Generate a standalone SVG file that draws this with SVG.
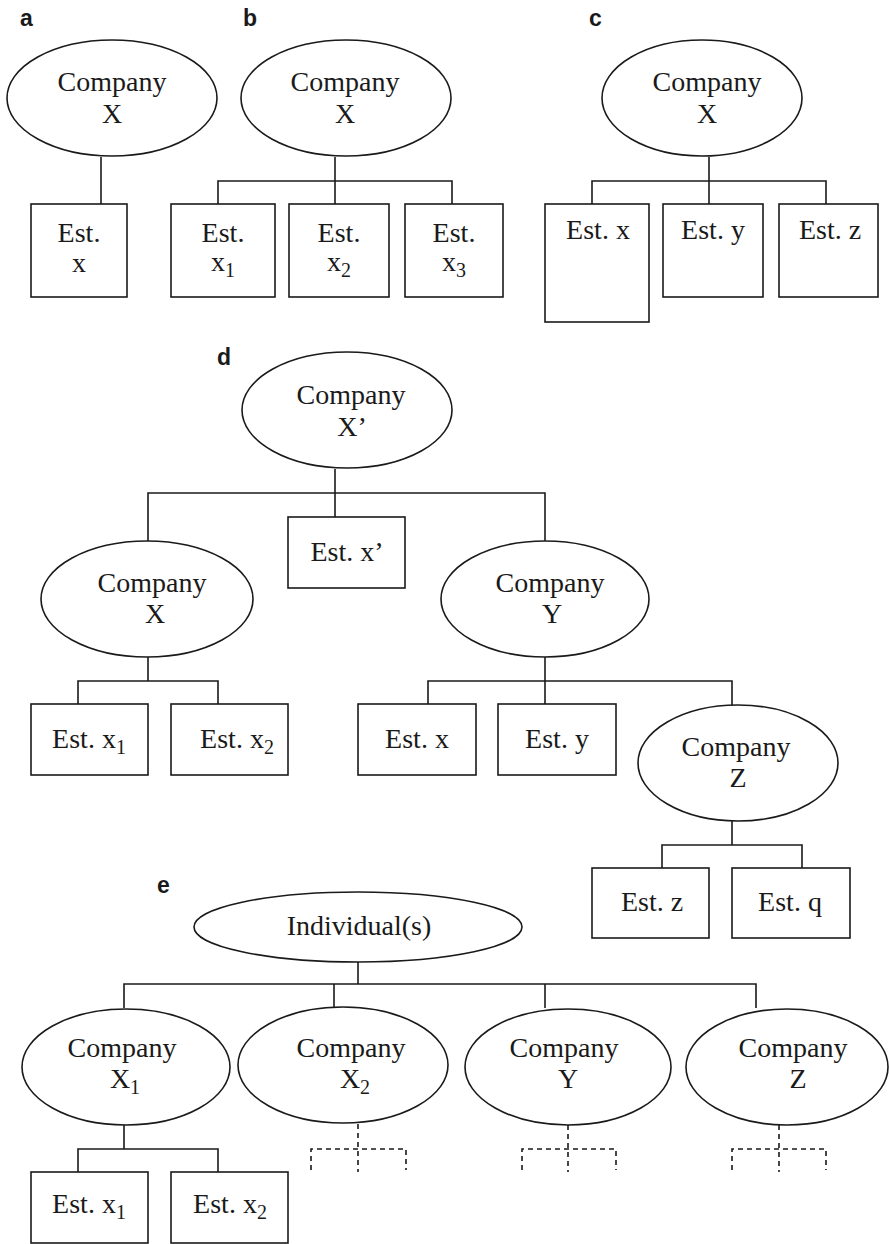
<svg xmlns="http://www.w3.org/2000/svg" width="889" height="1244" viewBox="0 0 889 1244">
<style>
.n{fill:#fff;stroke:#1a1a1a;stroke-width:1.6}
.t{font-family:"Liberation Serif","Times New Roman",serif;font-size:28px;fill:#1a1a1a;text-anchor:middle}
.s{font-size:20px}
.lbl{font-family:"Liberation Sans",Arial,sans-serif;font-size:23px;font-weight:bold;fill:#1a1a1a}
.c{fill:none;stroke:#1a1a1a;stroke-width:1.6}
.d{fill:none;stroke:#1a1a1a;stroke-width:1.6;stroke-dasharray:5 4}
</style>
<rect width="889" height="1244" fill="#fff"/>
<g id="labels">
<text class="lbl" x="20" y="26">a</text>
<text class="lbl" x="243" y="26">b</text>
<text class="lbl" x="589" y="26">c</text>
<text class="lbl" x="217" y="365">d</text>
<text class="lbl" x="157" y="893">e</text>
</g>
<g id="connectors">
<path class="c" d="M101,157V204"/>
<path class="c" d="M335,157V204M218,204V181H452V204"/>
<path class="c" d="M709,157V204M592,204V181H826V204"/>
<path class="c" d="M335,469V517M148,541V493H545V541"/>
<path class="c" d="M148,657V681M78,704V681H218V704"/>
<path class="c" d="M545,657V704M428,704V681H732V705"/>
<path class="c" d="M732,821V845M662,868V845H802V868"/>
<path class="c" d="M358,962V984M124,1008V984H756V1008M334,984V1008M545,984V1008"/>
<path class="c" d="M124,1125V1149M78,1172V1149H218V1172"/>
<path class="d" d="M358,1124V1172M311,1170V1149H406V1170"/>
<path class="d" d="M568,1125V1172M522,1170V1149H616V1170"/>
<path class="d" d="M779,1125V1172M732,1170V1149H826V1170"/>
</g>
<g id="a-company-x"><ellipse class="n" cx="112" cy="98" rx="105" ry="58"/><text class="t" x="112" y="91">Company</text><text class="t" x="112" y="123">X</text></g>
<g id="a-est-x"><rect class="n" x="31" y="204" width="96" height="93"/><text class="t" x="79" y="242">Est.</text><text class="t" x="79" y="272">x</text></g>
<g id="b-company-x"><ellipse class="n" cx="346" cy="98" rx="105" ry="58"/><text class="t" x="345" y="91">Company</text><text class="t" x="345" y="123">X</text></g>
<g id="b-est-x1"><rect class="n" x="171" y="204" width="104" height="93"/><text class="t" x="223" y="242">Est.</text><text class="t" x="223" y="271">x<tspan class="s" dy="6">1</tspan></text></g>
<g id="b-est-x2"><rect class="n" x="289" y="204" width="100" height="93"/><text class="t" x="339" y="242">Est.</text><text class="t" x="339" y="271">x<tspan class="s" dy="6">2</tspan></text></g>
<g id="b-est-x3"><rect class="n" x="405" y="204" width="98" height="93"/><text class="t" x="454" y="242">Est.</text><text class="t" x="454" y="271">x<tspan class="s" dy="6">3</tspan></text></g>
<g id="c-company-x"><ellipse class="n" cx="702" cy="98" rx="100" ry="58"/><text class="t" x="707" y="91">Company</text><text class="t" x="707" y="123">X</text></g>
<g id="c-est-x"><rect class="n" x="545" y="204" width="104" height="118"/><text class="t" x="598" y="239">Est. x</text></g>
<g id="c-est-y"><rect class="n" x="663" y="204" width="100" height="93"/><text class="t" x="713" y="239">Est. y</text></g>
<g id="c-est-z"><rect class="n" x="779" y="204" width="99" height="93"/><text class="t" x="830" y="239">Est. z</text></g>
<g id="d-company-x-prime"><ellipse class="n" cx="347" cy="410" rx="105" ry="58"/><text class="t" x="351" y="404">Company</text><text class="t" x="352" y="436">X’</text></g>
<g id="d-est-x-prime"><rect class="n" x="288" y="517" width="117" height="71"/><text class="t" x="347" y="561">Est. x’</text></g>
<g id="d-company-x"><ellipse class="n" cx="147" cy="599" rx="106" ry="58"/><text class="t" x="152" y="592">Company</text><text class="t" x="155" y="623">X</text></g>
<g id="d-company-y"><ellipse class="n" cx="545" cy="599" rx="104" ry="58"/><text class="t" x="550" y="592">Company</text><text class="t" x="552" y="623">Y</text></g>
<g id="d-est-x1"><rect class="n" x="31" y="704" width="117" height="71"/><text class="t" x="89" y="748">Est. x<tspan class="s" dy="6">1</tspan></text></g>
<g id="d-est-x2"><rect class="n" x="171" y="704" width="117" height="71"/><text class="t" x="237" y="748">Est. x<tspan class="s" dy="6">2</tspan></text></g>
<g id="d-est-x"><rect class="n" x="358" y="704" width="118" height="71"/><text class="t" x="417" y="748">Est. x</text></g>
<g id="d-est-y"><rect class="n" x="498" y="704" width="118" height="71"/><text class="t" x="557" y="748">Est. y</text></g>
<g id="d-company-z"><ellipse class="n" cx="738" cy="763" rx="100" ry="58"/><text class="t" x="736" y="756">Company</text><text class="t" x="738" y="787">Z</text></g>
<g id="d-est-z"><rect class="n" x="592" y="868" width="117" height="70"/><text class="t" x="652" y="911">Est. z</text></g>
<g id="d-est-q"><rect class="n" x="732" y="868" width="118" height="70"/><text class="t" x="790" y="911">Est. q</text></g>
<g id="e-individuals"><ellipse class="n" cx="358" cy="927" rx="164" ry="35"/><text class="t" x="359" y="935">Individual(s)</text></g>
<g id="e-company-x1"><ellipse class="n" cx="126" cy="1067" rx="104" ry="58"/><text class="t" x="122" y="1057">Company</text><text class="t" x="125" y="1088">X<tspan class="s" dy="6">1</tspan></text></g>
<g id="e-company-x2"><ellipse class="n" cx="343" cy="1065" rx="105" ry="58"/><text class="t" x="351" y="1057">Company</text><text class="t" x="355" y="1088">X<tspan class="s" dy="6">2</tspan></text></g>
<g id="e-company-y"><ellipse class="n" cx="568" cy="1067" rx="103" ry="58"/><text class="t" x="564" y="1057">Company</text><text class="t" x="568" y="1088">Y</text></g>
<g id="e-company-z"><ellipse class="n" cx="787" cy="1067" rx="101" ry="58"/><text class="t" x="793" y="1057">Company</text><text class="t" x="798" y="1088">Z</text></g>
<g id="e-est-x1"><rect class="n" x="31" y="1172" width="117" height="71"/><text class="t" x="89" y="1213">Est. x<tspan class="s" dy="6">1</tspan></text></g>
<g id="e-est-x2"><rect class="n" x="171" y="1172" width="117" height="71"/><text class="t" x="230" y="1213">Est. x<tspan class="s" dy="6">2</tspan></text></g>
</svg>
